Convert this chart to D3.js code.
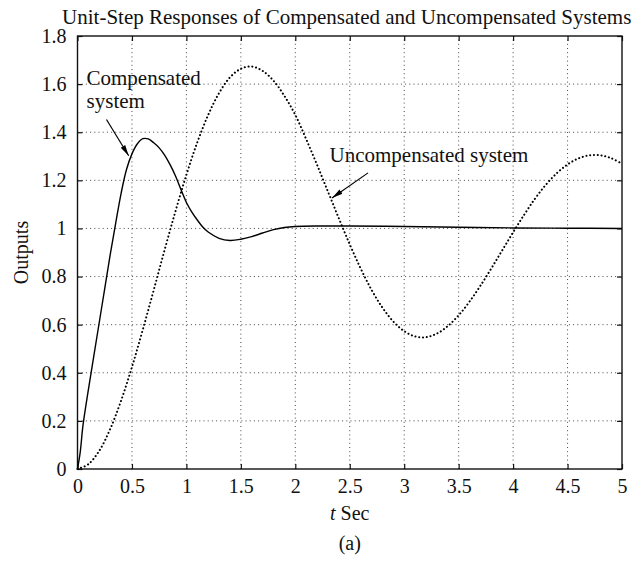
<!DOCTYPE html>
<html>
<head>
<meta charset="utf-8">
<script src="https://cdn.jsdelivr.net/npm/d3@7"></script>
<style>
  body { margin: 0; background: #fff; }
  svg { display: block; }
  text { font-family: "Liberation Serif", "Times New Roman", serif; fill: #111; }
</style>
</head>
<body>
<svg id="chart" width="641" height="562"></svg>
<script>
// Axis ticks
const xTicks = [0, 0.5, 1, 1.5, 2, 2.5, 3, 3.5, 4, 4.5, 5];
const yTicks = [0, 0.2, 0.4, 0.6, 0.8, 1, 1.2, 1.4, 1.6, 1.8];

// Compensated system: unit-step response
const compT = [0, 0.025, 0.05, 0.1, 0.15, 0.2, 0.25, 0.3, 0.35, 0.4, 0.45, 0.5, 0.55, 0.6, 0.65,
  0.7, 0.75, 0.8, 0.85, 0.9, 0.95, 1.0, 1.05, 1.1, 1.15, 1.2, 1.3, 1.4, 1.5, 1.6, 1.7, 1.8, 1.9,
  2.0, 2.2, 2.5, 3.0, 3.5, 4.0, 4.5, 5.0];
const compY = [0, 0.07, 0.18, 0.33, 0.47, 0.61, 0.75, 0.89, 1.02, 1.145, 1.245, 1.31, 1.352, 1.373, 1.372,
  1.356, 1.335, 1.305, 1.265, 1.218, 1.162, 1.108, 1.068, 1.035, 1.006, 0.985, 0.959, 0.95, 0.955, 0.966, 0.981, 0.995, 1.004,
  1.008, 1.01, 1.01, 1.008, 1.005, 1.002, 1.001, 1.0];

// Uncompensated system: unit-step response
const uncompT = [0, 0.1, 0.2, 0.3, 0.4, 0.5, 0.6, 0.7, 0.8, 0.9, 1.0, 1.1, 1.2, 1.3, 1.4, 1.5, 1.6, 1.7,
  1.8, 1.9, 2.0, 2.1, 2.2, 2.3, 2.4, 2.5, 2.6, 2.7, 2.8, 2.9, 3.0, 3.1, 3.2, 3.3, 3.4, 3.5, 3.6, 3.7,
  3.8, 3.9, 4.0, 4.1, 4.2, 4.3, 4.4, 4.5, 4.6, 4.7, 4.8, 4.9, 5.0];
const uncompY = [0, 0.020, 0.076, 0.166, 0.284, 0.424, 0.580, 0.744, 0.911, 1.072, 1.223, 1.358, 1.472,
  1.563, 1.628, 1.664, 1.673, 1.655, 1.614, 1.551, 1.472, 1.371, 1.264, 1.153, 1.042, 0.934, 0.834,
  0.745, 0.671, 0.613, 0.573, 0.551, 0.548, 0.563, 0.594, 0.639, 0.696, 0.762, 0.834, 0.909, 0.984,
  1.056, 1.123, 1.181, 1.229, 1.266, 1.291, 1.304, 1.304, 1.292, 1.269];

const titleText = "Unit-Step Responses of Compensated and Uncompensated Systems";
const xLabelItalic = "t";
const xLabelRest = " Sec";
const yLabelText = "Outputs";
const captionText = "(a)";

const W = 641, H = 562;
const margin = { left: 77.5, right: 19, top: 36, bottom: 93 };
const x0 = margin.left, x1 = W - margin.right;
const y0 = H - margin.bottom, y1 = margin.top;

const svg = d3.select("#chart");
const x = d3.scaleLinear().domain([0, 5]).range([x0, x1]);
const y = d3.scaleLinear().domain([0, 1.8]).range([y0, y1]);
const fmt = d => String(+d.toFixed(1));

// Dotted grid
const grid = svg.append("g").attr("stroke", "#333").attr("stroke-width", 0.9)
  .attr("stroke-dasharray", "1,3.2");
grid.selectAll(".gx").data(xTicks.slice(1, -1)).join("line")
  .attr("x1", d => x(d)).attr("x2", d => x(d)).attr("y1", y0).attr("y2", y1);
grid.selectAll(".gy").data(yTicks.slice(1, -1)).join("line")
  .attr("y1", d => y(d)).attr("y2", d => y(d)).attr("x1", x0).attr("x2", x1);

// Axes with inward ticks on all four sides
const tickLen = 5;
const styleAxis = g => {
  g.select(".domain").remove();
  g.selectAll(".tick line").attr("stroke", "#111").attr("stroke-width", 1.2);
  g.selectAll(".tick text").attr("font-size", 20).attr("fill", "#111")
    .attr("font-family", "'Liberation Serif', 'Times New Roman', serif");
};
svg.append("g").attr("transform", `translate(0,${y0})`)
  .call(d3.axisBottom(x).tickValues(xTicks).tickFormat(fmt).tickSizeInner(-tickLen).tickSizeOuter(0).tickPadding(10))
  .call(styleAxis);
svg.append("g").attr("transform", `translate(0,${y1})`)
  .call(d3.axisTop(x).tickValues(xTicks).tickFormat("").tickSizeInner(-tickLen).tickSizeOuter(0))
  .call(styleAxis);
svg.append("g").attr("transform", `translate(${x0},0)`)
  .call(d3.axisLeft(y).tickValues(yTicks).tickFormat(fmt).tickSizeInner(-tickLen).tickSizeOuter(0).tickPadding(11))
  .call(styleAxis);
svg.append("g").attr("transform", `translate(${x1},0)`)
  .call(d3.axisRight(y).tickValues(yTicks).tickFormat("").tickSizeInner(-tickLen).tickSizeOuter(0))
  .call(styleAxis);

// Plot frame
svg.append("rect").attr("x", x0).attr("y", y1).attr("width", x1 - x0).attr("height", y0 - y1)
  .attr("fill", "none").attr("stroke", "#111").attr("stroke-width", 1.4);

// Response curves
const line = d3.line().curve(d3.curveCatmullRom.alpha(0.5));
const uncompPts = uncompT.map((t, i) => [x(t), y(uncompY[i])]);
const compPts = compT.map((t, i) => [x(t), y(compY[i])]);

svg.append("path").attr("d", line(uncompPts)).attr("fill", "none")
  .attr("stroke", "#000").attr("stroke-width", 2).attr("stroke-linecap", "round")
  .attr("stroke-dasharray", "0.1,3.7");
svg.append("path").attr("d", line(compPts)).attr("fill", "none")
  .attr("stroke", "#000").attr("stroke-width", 1.4);

// Arrow markers
svg.append("defs").append("marker").attr("id", "arrow")
  .attr("markerUnits", "userSpaceOnUse").attr("markerWidth", 12).attr("markerHeight", 8)
  .attr("viewBox", "0 -4 12 8").attr("refX", 11).attr("refY", 0).attr("orient", "auto")
  .append("path").attr("d", "M0,-2.6L11,0L0,2.6Z").attr("fill", "#000");

// Annotations
const annFont = 21;
svg.append("text").attr("x", x(0.083)).attr("y", y(1.597)).attr("font-size", annFont).text("Compensated");
svg.append("text").attr("x", x(0.083)).attr("y", y(1.501)).attr("font-size", annFont).text("system");
svg.append("line").attr("x1", x(0.266)).attr("y1", y(1.453)).attr("x2", x(0.47)).attr("y2", y(1.302))
  .attr("stroke", "#000").attr("stroke-width", 1.2).attr("marker-end", "url(#arrow)");

svg.append("text").attr("x", x(2.314)).attr("y", y(1.277)).attr("font-size", annFont).text("Uncompensated system");
svg.append("line").attr("x1", x(2.668)).attr("y1", y(1.231)).attr("x2", x(2.337)).attr("y2", y(1.127))
  .attr("stroke", "#000").attr("stroke-width", 1.2).attr("marker-end", "url(#arrow)");

// Title, axis labels, caption
svg.append("text").attr("x", (x0 + x1) / 2 - 3).attr("y", 24).attr("text-anchor", "middle")
  .attr("font-size", 21).text(titleText);
const xl = svg.append("text").attr("x", (x0 + x1) / 2).attr("y", 520).attr("text-anchor", "middle")
  .attr("font-size", 20);
xl.append("tspan").attr("font-style", "italic").text(xLabelItalic);
xl.append("tspan").text(xLabelRest);
svg.append("text").attr("transform", `translate(28,${(y0 + y1) / 2}) rotate(-90)`)
  .attr("text-anchor", "middle").attr("font-size", 20).text(yLabelText);
svg.append("text").attr("x", (x0 + x1) / 2).attr("y", 550).attr("text-anchor", "middle")
  .attr("font-size", 20).text(captionText);
</script>
</body>
</html>
